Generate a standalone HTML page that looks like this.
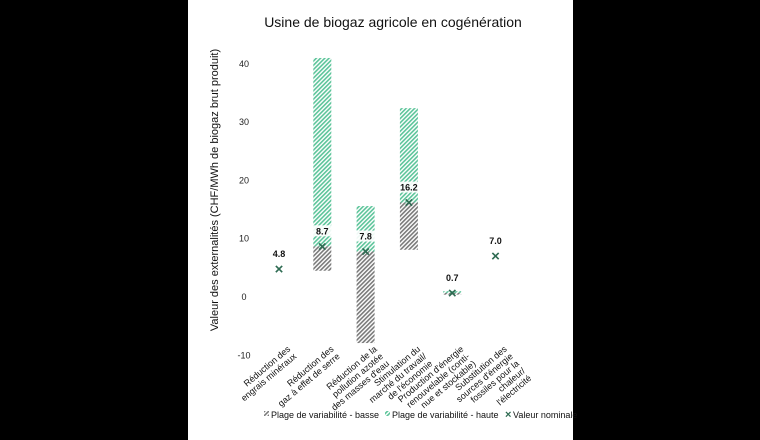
<!DOCTYPE html>
<html><head><meta charset="utf-8"><style>
body{margin:0;background:#000;}
svg{display:block;font-family:"Liberation Sans",Arial,sans-serif;}
</style></head><body>
<svg width="760" height="440" viewBox="0 0 760 440">
<defs>
<pattern id="hg" width="3" height="3" patternUnits="userSpaceOnUse" patternTransform="rotate(45)"><rect width="3" height="3" fill="#fff"/><rect width="1.6" height="3" fill="#7a7a7a"/></pattern>
<pattern id="hh" width="3" height="3" patternUnits="userSpaceOnUse" patternTransform="rotate(45)"><rect width="3" height="3" fill="#fff"/><rect width="1.6" height="3" fill="#5cc49a"/></pattern>
</defs>
<rect x="188" y="0" width="385" height="440" fill="#fff"/>
<text x="393" y="27" font-size="14" text-anchor="middle" fill="#111">Usine de biogaz agricole en cogénération</text>
<text transform="translate(218,190) rotate(-90)" font-size="11" text-anchor="middle" fill="#111">Valeur des externalités (CHF/MWh de biogaz brut produit)</text>
<g id="ticks"></g><g id="bars"></g><g id="xl"></g>
<g font-size="9" fill="#111">
<rect x="264" y="411" width="5" height="5" fill="url(#hg)"/>
<text x="271" y="418">Plage de variabilité - basse</text>
<rect x="385" y="411" width="5" height="5" fill="url(#hh)"/>
<text x="392" y="418">Plage de variabilité - haute</text>
<text x="505" y="418" font-size="11" font-weight="bold" fill="#2e6b52">×</text>
<text x="513" y="418">Valeur nominale</text>
</g>
</svg>
<script>
const categories=[["Réduction des","engrais minéraux"],["Réduction des","gaz à effet de serre"],["Réduction de la","pollution azotée","des masses d'eau"],["Stimulation du","marché du travail/","de l'économie"],["Production d'énergie","renouvelable (conti-","nue et stockable)"],["Substitution des","sources d'énergie","fossiles pour la","chaleur/","l'électricité"]];
const nominal=[4.8,8.7,7.8,16.2,0.7,7.0];
const lowMin=[null,4.5,-7.9,8.1,0.4,null];
const highMax=[null,41,15.6,32.4,1.0,null];
const yTicks=[-10,0,10,20,30,40];
const NS="http://www.w3.org/2000/svg";
const y=v=>297-v*5.83;
const x=i=>279+i*43.3;
function mk(t,a,p){const e=document.createElementNS(NS,t);for(const k in a)e.setAttribute(k,a[k]);(p||document.querySelector('svg')).appendChild(e);return e;}
const tg=document.getElementById('ticks'),bg=document.getElementById('bars'),xg=document.getElementById('xl');
yTicks.forEach(v=>{const t=mk('text',{x:244,y:y(v)+3,'font-size':9,'text-anchor':'middle',fill:'#222'},tg);t.textContent=v;

});
nominal.forEach((n,i)=>{
 const cx=x(i),w=18;
 if(lowMin[i]!=null){
  const r=mk('rect',{x:cx-w/2,y:y(n),width:w,height:y(lowMin[i])-y(n),fill:'url(#hg)'},bg);
  
  
  const h=mk('rect',{x:cx-w/2,y:y(highMax[i]),width:w,height:y(n)-y(highMax[i]),fill:'url(#hh)'},bg);
  
  
 }
 const lb=mk('rect',{x:cx-11,y:y(n)-21,width:22,height:11,fill:'#fff',opacity:0.9},bg);
 
 
 const t=mk('text',{x:cx,y:y(n)-12,'font-size':9,'font-weight':'bold','text-anchor':'middle',fill:'#111'},bg);
 t.textContent=n.toFixed(1);
 
 
 const m=mk('text',{x:cx,y:y(n)+5,'font-size':15,'font-weight':'bold','text-anchor':'middle',fill:'#2e6b52'},bg);
 m.textContent='×';
 
 
 const g=mk('g',{transform:`translate(${x(i)+12},350) rotate(-40)`},xg);
 
 
 categories[i].forEach((l,j)=>{const s=mk('text',{x:0,y:j*9.5,'font-size':9,'text-anchor':'end',fill:'#111'},g);s.textContent=l;});
});
</script>
</body></html>
